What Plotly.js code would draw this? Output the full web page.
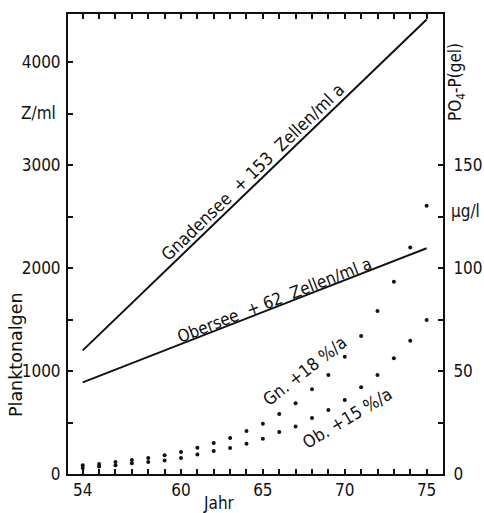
<!DOCTYPE html>
<html>
<head>
<meta charset="utf-8">
<script src="https://cdn.plot.ly/plotly-3.0.1.min.js"></script>
<style>html,body{margin:0;padding:0;background:#fff;}#chart{width:484px;height:513px;}</style>
</head>
<body>
<div id="chart"></div>
<script>
// Planktonalgen (Z/ml) trend lines
var lineYears = [54, 75];
var gnadenseeZ = [1200, 4413];
var oberseeZ = [890, 2192];

// PO4-P (gel) µg/l, yearly points
var years = [54,55,56,57,58,59,60,61,62,63,64,65,66,67,68,69,70,71,72,73,74,75];
var gnPO4 = [4.2,4.9,5.8,6.8,7.8,9.1,10.7,12.7,15.0,17.5,20.9,24.4,29.1,34.3,41.1,48.1,56.9,67.0,79.1,93.3,110.0,130.2];
var obPO4 = [2.9,3.6,4.2,5.2,5.8,6.5,7.8,9.5,11.2,12.6,14.7,17.1,20.4,23.0,27.2,31.1,35.9,42.1,48.1,56.2,64.7,74.8];

// tick labels
var xTickVals = years;
var xTickText = ['54','','','','','','60','','','','','65','','','','','70','','','','','75'];
var yTickVals = [0,500,1000,1500,2000,2500,3000,3500,4000];
var yTickText = ['0','','1000','','2000','','3000','','4000'];
var y2TickVals = [0,25,50,75,100,125,150];
var y2TickText = ['0','','50','','100','','150'];

var F = 'DejaVu Sans Condensed, DejaVu Sans, sans-serif';
var F2 = 'DejaVu Sans, sans-serif';
var C = '#111';

var traces = [
  {x: lineYears, y: gnadenseeZ, mode: 'lines', line: {color: C, width: 2}, yaxis: 'y', hoverinfo: 'skip'},
  {x: lineYears, y: oberseeZ, mode: 'lines', line: {color: C, width: 2}, yaxis: 'y', hoverinfo: 'skip'},
  {x: years, y: gnPO4, mode: 'markers', marker: {color: C, size: 4}, yaxis: 'y2'},
  {x: years, y: obPO4, mode: 'markers', marker: {color: C, size: 4}, yaxis: 'y2'}
];

var axisCommon = {
  showline: true, linecolor: C, linewidth: 2, ticks: 'inside', ticklen: 5, tickwidth: 2,
  tickcolor: C, showgrid: false, zeroline: false, tickfont: {family: F, size: 17, color: C}
};

function ann(text, x, y, xref, yref, angle, size, fam) {
  return {text: text, x: x, y: y, xref: xref, yref: yref, showarrow: false, textangle: angle || 0,
          xanchor: 'center', yanchor: 'middle', font: {family: fam || F, size: size || 17, color: C}};
}

var layout = {
  width: 484, height: 513,
  margin: {l: 68, r: 41, t: 14, b: 39},
  paper_bgcolor: '#fff', plot_bgcolor: '#fff',
  showlegend: false,
  font: {family: F, color: C},
  xaxis: Object.assign({}, axisCommon, {range: [53.1, 76], tickmode: 'array', tickvals: xTickVals, ticktext: xTickText, mirror: 'ticks'}),
  yaxis: Object.assign({}, axisCommon, {range: [0, 4466], tickmode: 'array', tickvals: yTickVals, ticktext: yTickText, ticklabelstandoff: 2}),
  yaxis2: Object.assign({}, axisCommon, {range: [0, 223.3], tickmode: 'array', tickvals: y2TickVals, ticktext: y2TickText, overlaying: 'y', side: 'right', ticklabelstandoff: 5}),
  annotations: [
    ann('Gnadensee&nbsp;&nbsp;+&nbsp;153&nbsp;&nbsp;Zellen/ml a', 64.4, 2930, 'x', 'y', -44, 17.5),
    ann('Obersee&nbsp;&nbsp;+&nbsp;62&nbsp;&nbsp;Zellen/ml a', 65.7, 1690, 'x', 'y', -21.3, 17),
    ann('Gn. +18 %/a', 67.56, 49.8, 'x', 'y2', -38, 17.5),
    ann('Ob. +15 %/a', 70.18, 27.2, 'x', 'y2', -31, 17.5),
    ann('Jahr', 0.4027, -0.063, 'paper', 'paper', 0, 17),
    ann('Planktonalgen', -0.137, 0.26, 'paper', 'paper', -90, 17.5, F2),
    ann('Z/ml', -0.08, 0.7837, 'paper', 'paper', 0, 17),
    ann('PO<sub>4</sub>-P(gel)', 1.036, 0.851, 'paper', 'paper', -90, 17),
    ann('µg/l', 1.059, 0.5717, 'paper', 'paper', 0, 17)
  ]
};

Plotly.newPlot('chart', traces, layout, {displayModeBar: false, staticPlot: true});
</script>
</body>
</html>
